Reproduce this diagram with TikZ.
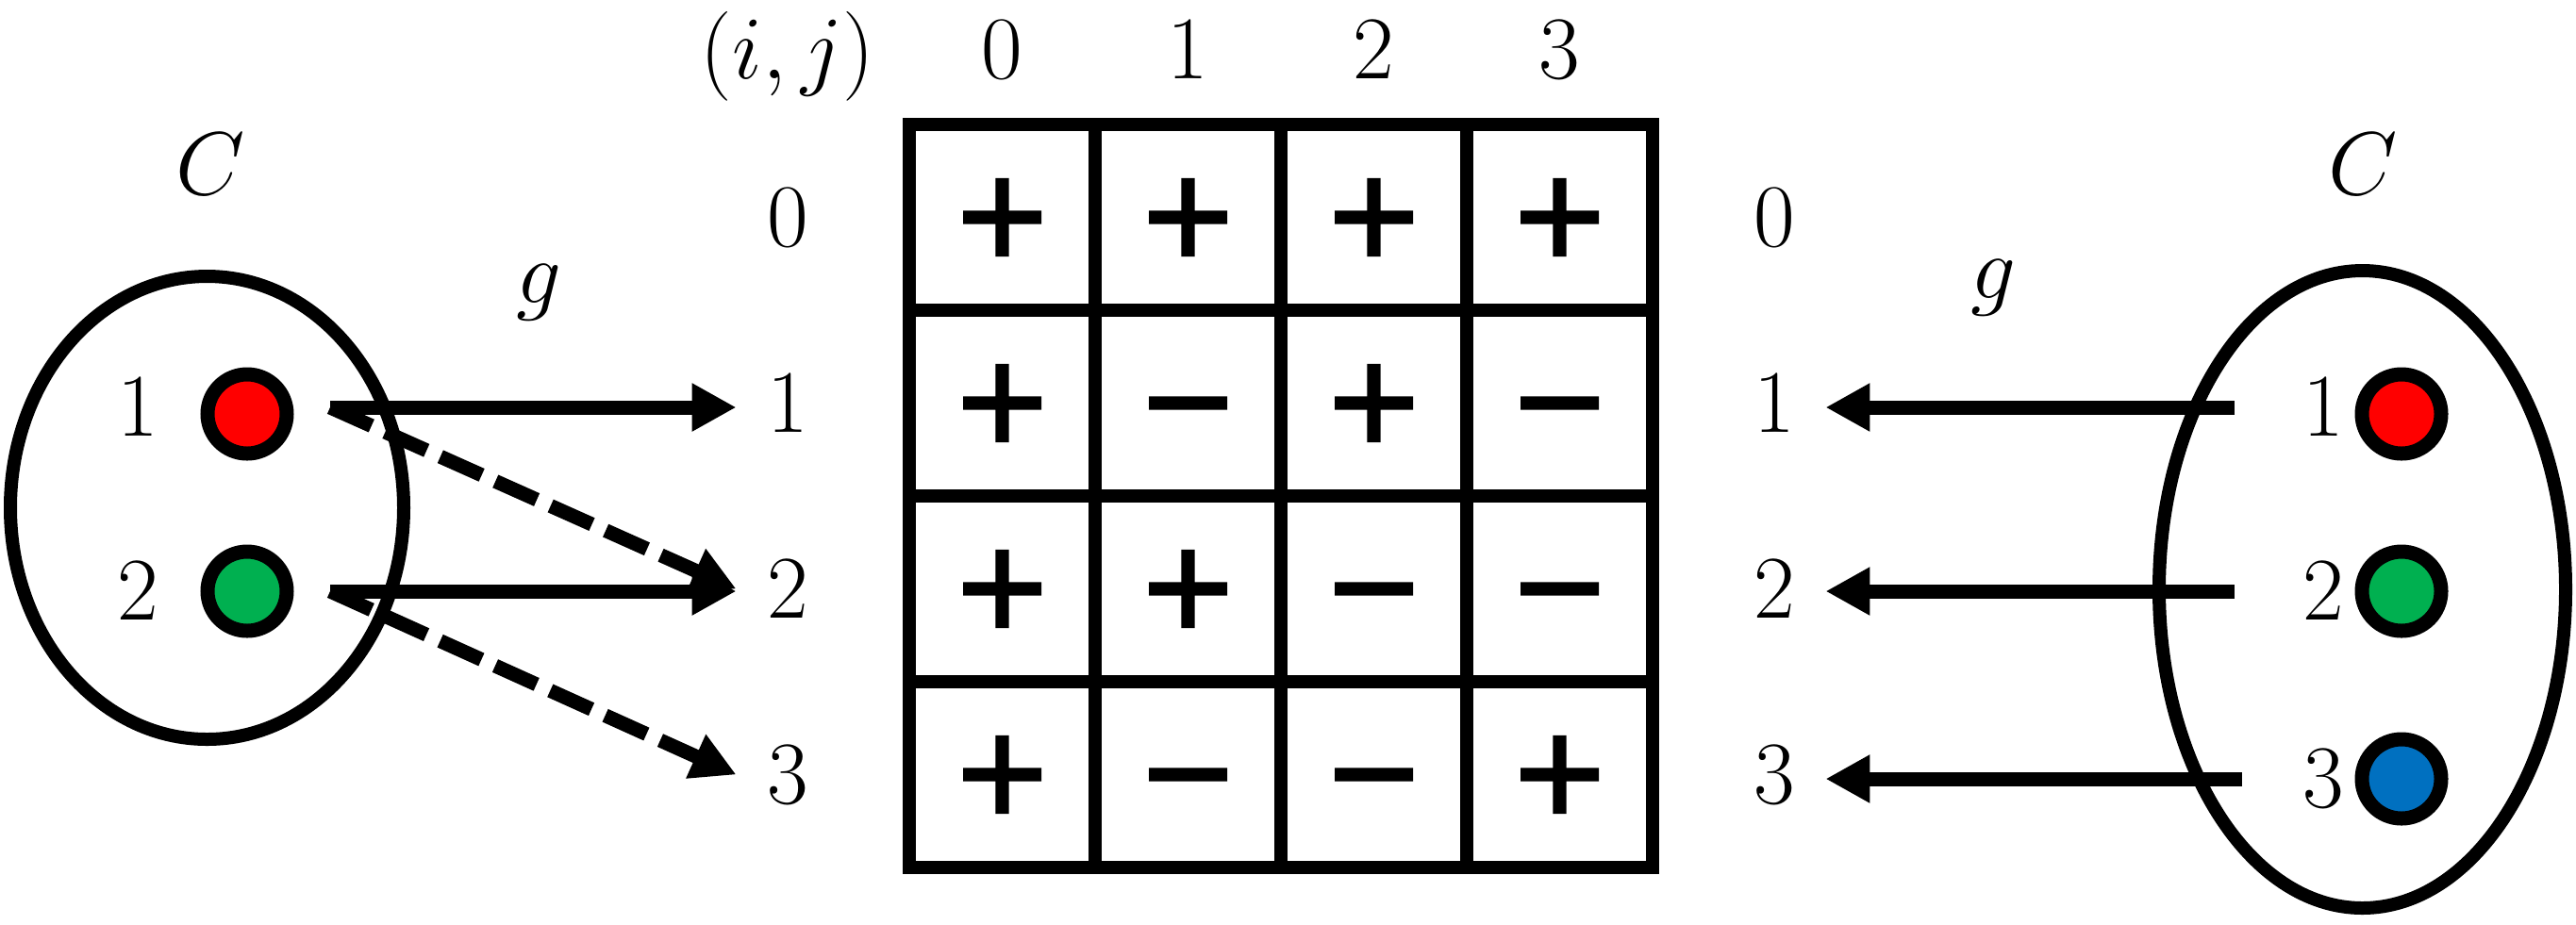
\RequirePackage{fix-cm}
\documentclass[tikz,border=0pt]{standalone}
\usepackage{fontspec}
\usetikzlibrary{arrows.meta}
\newfontfamily\signfont[FakeBold=3]{DejaVu Sans}
\definecolor{dotred}{HTML}{FF0000}
\definecolor{dotgreen}{HTML}{00B050}
\definecolor{dotblue}{HTML}{0070C0}
\tikzset{
	dot/.style={circle, draw, line width=0.15cm, minimum size=0.84cm, inner sep=0pt},
	lbl/.style={inner sep=0.32cm},
	arr/.style={line width=0.15cm, -{Triangle[length=0.47cm,width=0.48cm]}},
	dasharr/.style={arr, dash pattern=on 0.48cm off 0.16cm},
	sign/.style={inner sep=0pt, font=\signfont\fontsize{36}{40}\selectfont, execute at begin node={\vphantom{+}}},
	gridline/.style={line width=0.14cm}
}
\begin{document}
\begin{tikzpicture}[font=\fontsize{27}{32}\selectfont]
			\useasboundingbox (0,0) rectangle (27.31,-9.80);
			
			%Sign table
			\draw[gridline] (9.64,-1.32) rectangle (17.52,-9.20);
			\begin{scope}[shift={(9.64,-9.20)}]
				\draw[gridline] (0,0) grid[step=1.97] (7.88,7.88);
			\end{scope}
			
			%Column indices
			\def\y{-0.83}
			\node[lbl, anchor=base] (ij) at (8.35,\y) {$(i,j)$};
			\node[lbl, anchor=base] (c0) at (10.625,\y) {$0$};
			\node[lbl, anchor=base] (c1) at (12.595,\y) {$1$};
			\node[lbl, anchor=base] (c2) at (14.565,\y) {$2$};
			\node[lbl, anchor=base] (c3) at (16.535,\y) {$3$};
			
			%Row 0
			\def\y{-2.305}
			\node[lbl] (rl0) at (8.35,\y) {$0$};
			\node[sign] (s00) at (10.625,\y) {+};
			\node[sign] (s01) at (12.595,\y) {+};
			\node[sign] (s02) at (14.565,\y) {+};
			\node[sign] (s03) at (16.535,\y) {+};
			\node[lbl] (rr0) at (18.81,\y) {$0$};
			
			%Row 1
			\def\y{-4.275}
			\node[lbl] (rl1) at (8.35,\y) {$1$};
			\node[sign] (s10) at (10.625,\y) {+};
			\node[sign] (s11) at (12.595,\y) {−};
			\node[sign] (s12) at (14.565,\y) {+};
			\node[sign] (s13) at (16.535,\y) {−};
			\node[lbl] (rr1) at (18.81,\y) {$1$};
			
			%Row 2
			\def\y{-6.245}
			\node[lbl] (rl2) at (8.35,\y) {$2$};
			\node[sign] (s20) at (10.625,\y) {+};
			\node[sign] (s21) at (12.595,\y) {+};
			\node[sign] (s22) at (14.565,\y) {−};
			\node[sign] (s23) at (16.535,\y) {−};
			\node[lbl] (rr2) at (18.81,\y) {$2$};
			
			%Row 3
			\def\y{-8.215}
			\node[lbl] (rl3) at (8.35,\y) {$3$};
			\node[sign] (s30) at (10.625,\y) {+};
			\node[sign] (s31) at (12.595,\y) {−};
			\node[sign] (s32) at (14.565,\y) {−};
			\node[sign] (s33) at (16.535,\y) {+};
			\node[lbl] (rr3) at (18.81,\y) {$3$};
			
			%Left set C
			\draw[gridline] (2.195,-5.385) ellipse (2.085 and 2.455);
			\node[lbl] (lc) at (2.23,-1.74) {$C$};
			\node[lbl] (lg) at (5.71,-3.10) {$g$};
			\node[lbl] (ln1) at (1.46,-4.32) {$1$};
			\node[dot, fill=dotred] (ld1) at (2.62,-4.39) {};
			\node[lbl] (ln2) at (1.46,-6.27) {$2$};
			\node[dot, fill=dotgreen] (ld2) at (2.62,-6.27) {};
			\coordinate (lo1) at (3.50,-4.32);
			\coordinate (lo2) at (3.50,-6.27);
			
			\draw[arr] (lo1) -- (lo1 -| rl1.west);
			\draw[arr] (lo2) -- (lo2 -| rl2.west);
			\draw[dasharr] (lo1) -- (rl2.west);
			\draw[dasharr] (lo2) -- (rl3.west);
			
			%Right set C
			\draw[gridline] (25.045,-6.25) ellipse (2.155 and 3.38);
			\node[lbl] (rc) at (25.05,-1.74) {$C$};
			\node[lbl] (rg) at (21.13,-3.05) {$g$};
			\node[lbl] (rn1) at (24.63,-4.32) {$1$};
			\node[dot, fill=dotred] (rd1) at (25.46,-4.39) {};
			\node[lbl] (rn2) at (24.63,-6.27) {$2$};
			\node[dot, fill=dotgreen] (rd2) at (25.46,-6.27) {};
			\node[lbl] (rn3) at (24.63,-8.26) {$3$};
			\node[dot, fill=dotblue] (rd3) at (25.46,-8.26) {};
			\coordinate (ro1) at (23.69,-4.32);
			\coordinate (ro2) at (23.69,-6.27);
			\coordinate (ro3) at (23.77,-8.26);
			
			\draw[arr] (ro1) -- (ro1 -| rr1.east);
			\draw[arr] (ro2) -- (ro2 -| rr2.east);
			\draw[arr] (ro3) -- (ro3 -| rr3.east);
		\end{tikzpicture}
\end{document}
